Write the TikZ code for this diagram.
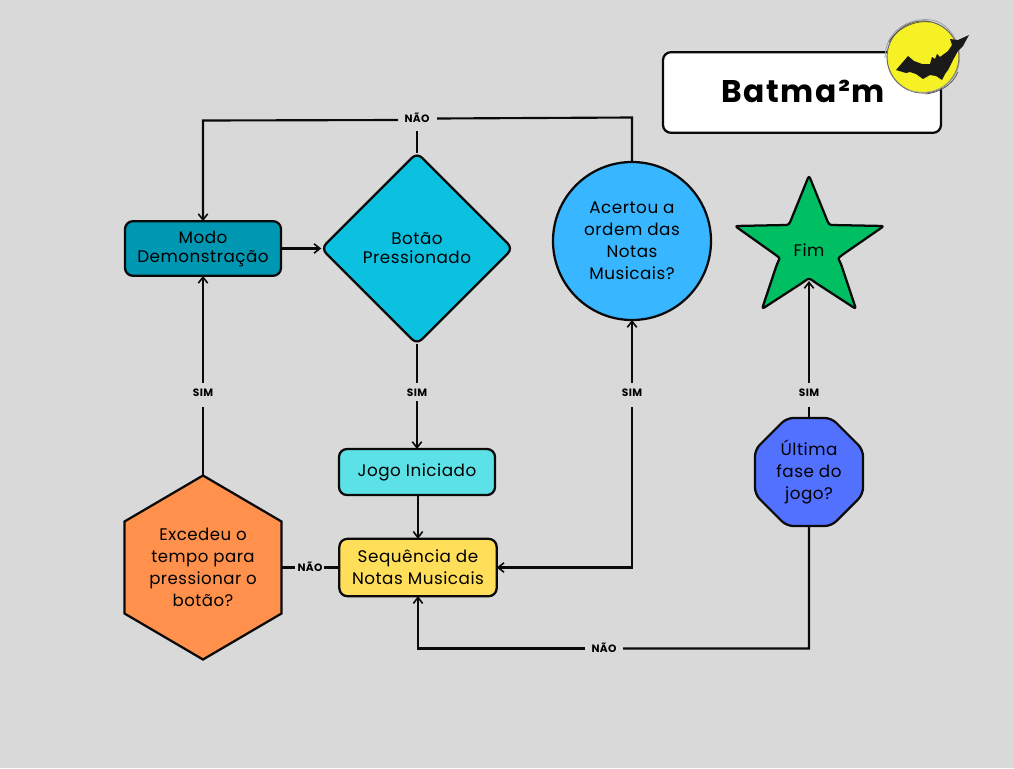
\documentclass[tikz,border=0pt]{standalone}
\usepackage{fontspec}
\setmainfont[LetterSpace=3]{Poppins}
\newfontfamily\titlefont[LetterSpace=5]{Poppins}
\usetikzlibrary{shapes.geometric,arrows.meta}
\definecolor{bgc}{HTML}{D9D9D9}
\definecolor{linec}{HTML}{0A0A0A}
\definecolor{modoc}{HTML}{0097B2}
\definecolor{botc}{HTML}{0CC0DF}
\definecolor{acertc}{HTML}{38B6FF}
\definecolor{fimc}{HTML}{00BF63}
\definecolor{jogoc}{HTML}{5CE1E6}
\definecolor{seqc}{HTML}{FFDE59}
\definecolor{excc}{HTML}{FF914D}
\definecolor{ultc}{HTML}{5271FF}
\definecolor{moonc}{HTML}{F5F124}
\definecolor{batc}{HTML}{1A1A1A}
\tikzset{
  x=0.75pt,y=-0.75pt,
  shapeline/.style={draw=linec,line width=1.7pt,align=center,font=\fontsize{12.6pt}{16.5pt}\selectfont,text=black,inner sep=0pt,outer sep=0pt},
  tightlines/.style={font=\fontsize{12.6pt}{14.3pt}\selectfont},
  boxshape/.style={shapeline,rectangle,rounded corners=6pt},
  conn/.style={draw=linec,line width=1.6pt,-{Straight Barb[length=4.5pt,width=7pt,line width=1.2pt]}},
  plainconn/.style={draw=linec,line width=1.6pt},
  lab/.style={font=\fontsize{8pt}{9pt}\selectfont\bfseries,text=black,inner sep=0pt,outer sep=0pt}
}
\begin{document}
\begin{tikzpicture}
\useasboundingbox[fill=bgc] (0,0) rectangle (1014,768);
% title
\node[boxshape,fill=white,minimum width=208.5pt,minimum height=60.5pt,rounded corners=6pt] (title) at (802,92.5) {};
\node[font=\titlefont\fontsize{23.5pt}{30pt}\selectfont\bfseries,text=black,inner sep=0pt] (titletext) at (803,91) {Batma²m};
% moon
\node[circle,fill=moonc,draw=gray!85!black,line width=0.8pt,minimum size=54pt,inner sep=0pt] (moon) at (923,57) {};
\draw[gray!75,line width=0.6pt] (885,58) .. controls (885,30) and (910,17) .. (932,20) .. controls (952,24) and (964,48) .. (958,68) .. controls (951,88) and (930,97) .. (908,90);
\draw[gray!60!black,line width=0.5pt] (889,42) .. controls (897,28) and (915,20) .. (930,22);
\draw[gray!60!black,line width=0.5pt] (958,72) .. controls (952,86) and (938,93) .. (925,94);
\fill[batc] (969,35) -- (958,40) -- (950,39) -- (952,45) -- (948,51) -- (940,57) -- (937,54) -- (935,59) -- (932,57) -- (930,64) -- (922,64)
  -- (914,61) -- (908,56) -- (902,63) -- (896,70) -- (906,73) -- (910,72) -- (916,74) -- (923,79) -- (930,75) -- (936,76) -- (942,80)
  -- (945,74) -- (948,70) -- (953,60) -- (958,51) -- (963,46) -- cycle;
% shapes
\node[boxshape,tightlines,fill=modoc,minimum width=117pt,minimum height=41pt] (modo) at (203,248.5) {\raisebox{-2pt}{Modo}\\\raisebox{-2pt}{Demonstração}};
\node[shapeline,tightlines,fill=botc,diamond,rounded corners=5pt,minimum width=143.5pt,minimum height=143.5pt] (botao) at (417,248.5) {Botão\\Pressionado};
\node[shapeline,fill=acertc,circle,minimum size=118.5pt] (acerto) at (632,241) {Acertou a\\ordem das\\Notas\\Musicais?};
\node[boxshape,fill=jogoc,minimum width=117pt,minimum height=34.5pt] (jogo) at (417,472) {Jogo Iniciado};
\node[boxshape,fill=seqc,minimum width=118pt,minimum height=43pt] (seq) at (418,567.5) {Sequência de\\Notas Musicais};
\node[shapeline,fill=excc,regular polygon,regular polygon sides=6,shape border rotate=30,minimum size=138pt,xscale=0.985] (exc) at (203,567.5) {Excedeu o\\tempo para\\pressionar o\\botão?};
\node[shapeline,fill=ultc,regular polygon,regular polygon sides=8,minimum size=87.7pt,rounded corners=5pt] (ult) at (809,472) {Última\\fase do\\jogo?};
% star
\path[draw=linec,fill=fimc,line width=1.7pt,line join=round,rounded corners=2pt]
 (809,175.5) -- (825,215) .. controls (829,225) .. (837,225.1) -- (884,226) -- (845,253) .. controls (838,258) .. (841,264) -- (856,309) -- (816,283) .. controls (809,278) .. (802,283) -- (762,309) -- (777,264) .. controls (780,258) .. (773,253) -- (735,226) -- (781,225.1) .. controls (789,225) .. (793,215) -- cycle;
\node[font=\fontsize{12.6pt}{16pt}\selectfont,text=black,inner sep=0pt] (fim) at (809,250) {Fim};
\coordinate (fimin) at (809,281);
% labels
\node[lab] (l1) at (417,118) {NÃO};
\node[lab] (l2) at (203,392.5) {SIM};
\node[lab] (l3) at (417,392.5) {SIM};
\node[lab] (l4) at (632,392.5) {SIM};
\node[lab] (l5) at (809,392.5) {SIM};
\node[lab] (l6) at (310,567) {NÃO};
\node[lab] (l7) at (604,648) {NÃO};
% connectors
\draw[conn] (modo.east) -- (botao.west);
\draw[plainconn] (botao.north) -- ++(0,-22);
\draw[plainconn] (acerto.north) -- (632,117.5) -- (437,118.5);
\draw[conn] (398,120) -- (203,120.5) -- (modo.north);
\draw[plainconn] (exc.north) -- ++(0,-69);
\draw[conn] (203,383) -- (modo.south);
\draw[plainconn] (botao.south) -- ++(0,39);
\draw[conn] (417,401) -- (jogo.north);
\draw[conn] ([xshift=0.75pt]jogo.south) -- (seq.north);
\draw[plainconn] (exc.east) -- ++(14,0);
\draw[plainconn] (324,567.5) -- (seq.west);
\draw[conn] (632,407) -- (632,567.5) -- (seq.east);
\draw[conn] (632,383) -- (acerto.south);
\draw[plainconn] (ult.north) -- ++(0,-11);
\draw[conn] (809,383) -- (fimin);
\draw[plainconn] (ult.south) -- (809,648.5) -- (623,648.5);
\draw[conn] (585,648.5) -- (418,648.5) -- (seq.south);
\end{tikzpicture}
\end{document}
